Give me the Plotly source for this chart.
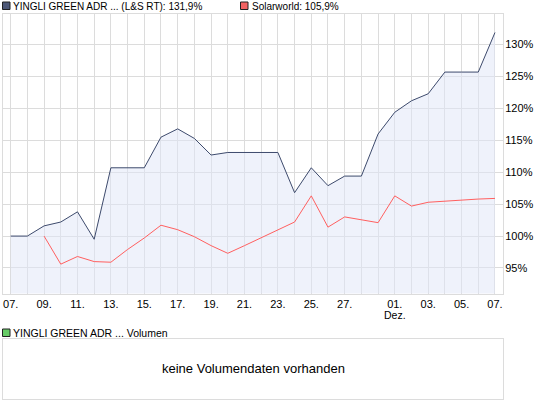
import plotly.graph_objects as go

# 30 Handelstage, 07.11. bis 07.12.
slots = list(range(30))
tick_labels = ["07.", "", "09.", "", "11.", "", "13.", "", "15.", "", "17.", "", "19.", "", "21.", "",
               "23.", "", "25.", "", "27.", "", "", "01.", "", "03.", "", "05.", "", "07."]
month_slot, month_label = 23, "Dez."

yingli = [100.0, 100.0, 101.6, 102.2, 103.8, 99.5, 110.7, 110.7, 110.7, 115.5,
          116.8, 115.3, 112.7, 113.1, 113.1, 113.1, 113.1, 106.8, 110.7, 107.9,
          109.4, 109.4, 116.0, 119.4, 121.2, 122.3, 125.7, 125.7, 125.7, 131.9]
solarworld = [None, None, 100.0, 95.6, 96.8, 96.0, 95.9, 97.9, 99.7, 101.7,
              101.0, 99.9, 98.5, 97.3, 98.5, 99.7, 100.9, 102.2, 106.3, 101.4,
              103.0, 102.5, 102.1, 106.3, 104.7, 105.3, 105.5, 105.6, 105.8, 105.9]
y_ticks = [95, 100, 105, 110, 115, 120, 125, 130]
y_tick_text = [f"{v}%" for v in y_ticks]

W, H = 545, 407
ML, MR = 3, 42
FONT = "Liberation Sans, Arial, sans-serif"
GRID = "#dcdcdc"


def px(x):
    # paper-x bezieht sich auf die Plotflaeche zwischen den Raendern
    return (x - ML) / (W - ML - MR)


def py(y):
    return 1 - y / H


def pct(v):
    return f"{v:.1f}".replace(".", ",") + "%"


fig = go.Figure()
fig.add_trace(go.Scatter(
    x=slots, y=yingli, mode="lines", fill="tozeroy",
    fillcolor="rgba(223,229,247,0.5)",
    line=dict(color="#3d4a6c", width=1), showlegend=False
))
fig.add_trace(go.Scatter(
    x=slots, y=solarworld, mode="lines",
    line=dict(color="#ff5f5f", width=1), showlegend=False
))
# leeres Volumen-Panel
fig.add_trace(go.Scatter(x=[], y=[], xaxis="x2", yaxis="y2", showlegend=False))

fig.update_layout(
    width=W, height=H,
    margin=dict(l=ML, r=MR, t=0, b=0),
    paper_bgcolor="white", plot_bgcolor="white",
    font=dict(family=FONT, size=11, color="#000000"),
    xaxis=dict(
        range=[-0.46, 29.48], tickvals=slots, ticktext=tick_labels, tickangle=0,
        showgrid=True, gridcolor=GRID, gridwidth=1, zeroline=False,
        showline=True, linecolor=GRID, mirror=True, ticks="",
        domain=[0, 1], anchor="y", automargin=False
    ),
    yaxis=dict(
        range=[91.0, 134.8], tickvals=y_ticks, ticktext=y_tick_text, side="right",
        showgrid=True, gridcolor=GRID, gridwidth=1, zeroline=False,
        showline=True, linecolor=GRID, mirror=True, ticks="", ticklabelstandoff=-1,
        domain=[py(293.5), py(14)], automargin=False
    ),
    xaxis2=dict(
        range=[0, 1], showgrid=False, zeroline=False, showticklabels=False,
        showline=True, linecolor=GRID, mirror=True, ticks="",
        domain=[0, 1], anchor="y2"
    ),
    yaxis2=dict(
        range=[0, 1], showgrid=False, zeroline=False, showticklabels=False,
        showline=True, linecolor=GRID, mirror=True, ticks="",
        domain=[py(398.5), py(338.5)], anchor="x2"
    ),
)

# Monatsname unter dem Monatsersten
fig.add_annotation(x=month_slot, y=py(315), xref="x", yref="paper",
                   text=month_label, showarrow=False, yanchor="middle",
                   font=dict(size=10.5))

# Legenden-Kaestchen
boxes = [(2.5, 2, "#4d5877"), (240.5, 2, "#f26262"), (2.5, 329, "#66cc66")]
for bx, by, col in boxes:
    fig.add_shape(type="rect", xref="paper", yref="paper",
                  x0=px(bx), x1=px(bx + 7.5), y0=py(by + 7.5), y1=py(by),
                  fillcolor=col, line=dict(color="#222222", width=1))

labels = [
    (11, 6, "YINGLI GREEN ADR ... (L&S RT): " + pct(yingli[-1]), 10),
    (250, 6, "Solarworld: " + pct(solarworld[-1]), 10),
    (10.5, 332.5, "YINGLI GREEN ADR ... Volumen", 10.5),
]
for lx, ly, txt, size in labels:
    fig.add_annotation(x=px(lx), y=py(ly), xref="paper", yref="paper",
                       text=txt, showarrow=False, xanchor="left", yanchor="middle",
                       font=dict(size=size))

fig.add_annotation(x=px(253), y=py(368), xref="paper", yref="paper",
                   text="keine Volumendaten vorhanden", showarrow=False,
                   xanchor="center", yanchor="middle", font=dict(size=13))

fig.write_html("out.html", config={"displayModeBar": False},
               post_script="document.body.style.margin='0px';")
